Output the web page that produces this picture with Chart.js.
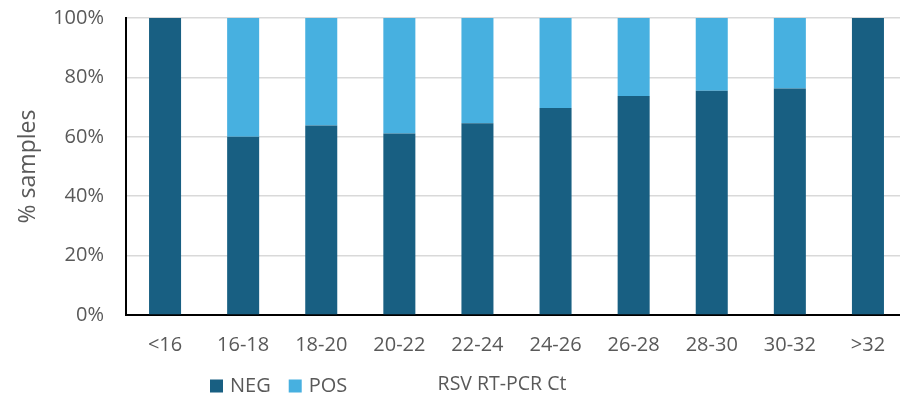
<!DOCTYPE html>
<html>
<head>
<meta charset="utf-8">
<script src="https://cdn.jsdelivr.net/npm/chart.js@4.4.1/dist/chart.umd.min.js"></script>
<style>
html,body{margin:0;padding:0;background:#fff;overflow:hidden;}
#wrap{position:relative;width:910px;height:401px;}
</style>
</head>
<body>
<div id="wrap"><canvas id="c" width="910" height="401"></canvas></div>
<script>
const categories = ['<16','16-18','18-20','20-22','22-24','24-26','26-28','28-30','30-32','>32'];
const negValues = [100, 60, 63.8, 61.1, 64.6, 69.7, 73.7, 75.5, 76.3, 100];
const posValues = [0, 40, 36.2, 38.9, 35.4, 30.3, 26.3, 24.5, 23.7, 0];
const yTicks = [0, 20, 40, 60, 80, 100];
const seriesNames = ['NEG', 'POS'];
const xTitle = 'RSV RT-PCR Ct';
const yTitle = '% samples';

const FONT = "'Open Sans', 'Liberation Sans', sans-serif";
const GREY = '#595959';
const colors = ['#185F82', '#47B0E0'];

const bottomLegend = {
  id: 'bottomLegend',
  afterDraw(chart) {
    const ctx = chart.ctx;
    ctx.save();
    ctx.textBaseline = 'middle';
    ctx.font = '20px ' + FONT;
    let x = 210;
    const y = 386;
    chart.data.datasets.forEach((ds) => {
      ctx.fillStyle = ds.backgroundColor;
      ctx.fillRect(x, y - 6.5, 13, 13);
      ctx.fillStyle = GREY;
      ctx.textAlign = 'left';
      ctx.fillText(ds.label, x + 20, y);
      x += 20 + ctx.measureText(ds.label).width + 18;
    });
    ctx.font = '19.5px ' + FONT;
    ctx.fillStyle = GREY;
    ctx.textAlign = 'center';
    ctx.fillText(xTitle, 502, 384);
    ctx.restore();
  }
};

new Chart(document.getElementById('c'), {
  type: 'bar',
  data: {
    labels: categories,
    datasets: [
      { label: seriesNames[0], data: negValues, backgroundColor: colors[0] },
      { label: seriesNames[1], data: posValues, backgroundColor: colors[1] }
    ]
  },
  options: {
    responsive: false,
    animation: false,
    devicePixelRatio: 1,
    layout: { padding: { top: 18, right: 3, left: 0, bottom: 0 } },
    datasets: { bar: { barPercentage: 0.41, categoryPercentage: 1 } },
    plugins: { legend: { display: false }, tooltip: { enabled: false } },
    scales: {
      x: {
        stacked: true,
        grid: { display: false, drawTicks: false },
        border: { display: true, color: '#000', width: 2 },
        ticks: { color: GREY, font: { size: 20, family: FONT }, padding: 18, maxRotation: 0 },
        afterFit(scale) { scale.height = 86; }
      },
      y: {
        stacked: true,
        min: 0, max: 100,
        afterBuildTicks(scale) { scale.ticks = yTicks.map(v => ({ value: v })); },
        grid: { color: '#d9d9d9', lineWidth: 1.5, drawTicks: false },
        border: { display: true, color: '#000', width: 2 },
        ticks: { color: GREY, font: { size: 20, family: FONT }, padding: 22, callback: v => v + '%' },
        title: { display: true, text: yTitle, color: GREY, font: { size: 23, family: FONT }, padding: { top: 15, bottom: 0 } },
        afterFit(scale) { scale.width = 126; scale.paddingTop = 0; scale.paddingBottom = 0; }
      }
    }
  },
  plugins: [bottomLegend]
});
</script>
</body>
</html>
